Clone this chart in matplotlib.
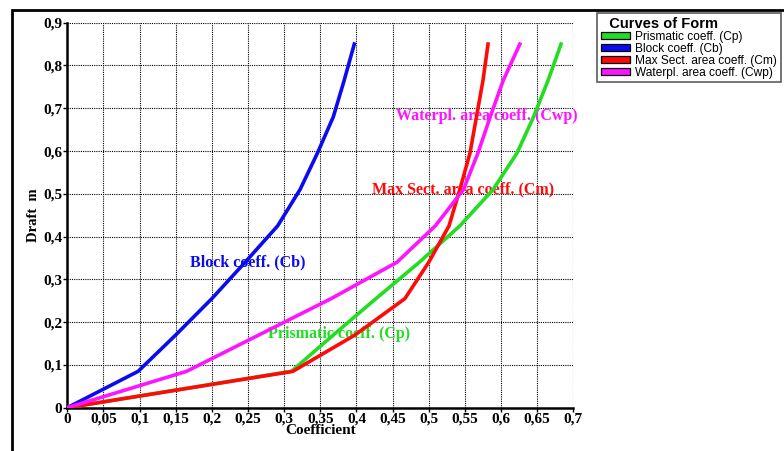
import numpy as np
import matplotlib
matplotlib.use("Agg")
from matplotlib import pyplot as plt
from matplotlib.patches import Rectangle, Patch

# draft stations (m)
draft = [0, 0.085, 0.17, 0.255, 0.34, 0.425, 0.51, 0.595, 0.68, 0.765, 0.85]

# coefficient values
cp = [0, 0.31, 0.368, 0.427, 0.487, 0.543, 0.589, 0.622, 0.645, 0.665, 0.683]
cb = [0, 0.098, 0.150, 0.200, 0.246, 0.291, 0.322, 0.346, 0.368, 0.383, 0.397]
cm = [0, 0.312, 0.398, 0.467, 0.500, 0.528, 0.543, 0.557, 0.566, 0.575, 0.582]
cwp = [0, 0.165, 0.265, 0.365, 0.456, 0.509, 0.548, 0.568, 0.585, 0.603, 0.626]

series_names = ["Prismatic coeff. (Cp)", "Block coeff. (Cb)",
                "Max Sect. area coeff. (Cm)", "Waterpl. area coeff. (Cwp)"]
series_colors = ["#22dd22", "#0b0bf0", "#ff0a0a", "#ff14ff"]

x_ticks = np.round(np.arange(0, 0.701, 0.05), 2)
y_ticks = np.round(np.arange(0, 0.901, 0.1), 1)


def comma(v):
    return ("%g" % v).replace(".", ",")


plt.rcParams["font.family"] = ["Liberation Serif", "DejaVu Serif"]

fig = plt.figure(figsize=(7.84, 4.51), dpi=100)
ax = fig.add_axes([0.0858, 0.096, 0.6455, 0.8537])

# outer frame running off the right and bottom edges
fig.patches.append(Rectangle((12 / 784, -0.1), 1.2, 1 - 10 / 451 + 0.1,
                             transform=fig.transFigure, fill=False,
                             edgecolor="black", linewidth=2, zorder=0))

ax.set_xlim(0, 0.7)
ax.set_ylim(0, 0.9)
ax.set_xticks(x_ticks)
ax.set_yticks(y_ticks)
ax.set_xticklabels([comma(v) for v in x_ticks], fontweight="bold", fontsize=11)
ax.set_yticklabels([comma(v) for v in y_ticks], fontweight="bold", fontsize=11)
ax.tick_params(length=3, width=1, pad=0.5)
ax.grid(True, color="black", linestyle=(0, (1, 1)), linewidth=0.8)
ax.set_axisbelow(True)
for side in ("top", "right"):
    ax.spines[side].set_visible(False)
for side in ("left", "bottom"):
    ax.spines[side].set_linewidth(1.8)
ax.patch.set_alpha(0)

values = [cp, cb, cm, cwp]
for vals, col in zip(values, series_colors):
    ax.plot(vals, draft, color=col, linewidth=2.6, solid_joinstyle="miter",
            zorder=3)

ax.set_xlabel("Coefficient", fontweight="bold", fontsize=11, labelpad=-1)
ax.set_ylabel("Draft  m", fontweight="bold", fontsize=10.5, labelpad=2)

# curve annotations
lab_size = 11.5
ax.text(0.17, 0.34, "Block coeff. (Cb)", color=series_colors[1],
        fontweight="bold", fontsize=lab_size, va="center", zorder=2)
ax.text(0.278, 0.172, "Prismatic coeff. (Cp)", color=series_colors[0],
        fontweight="bold", fontsize=lab_size, va="center", zorder=2)
ax.text(0.421, 0.51, "Max Sect. area coeff. (Cm)", color=series_colors[2],
        fontweight="bold", fontsize=lab_size, va="center", zorder=2)
ax.text(0.455, 0.681, "Waterpl. area coeff. (Cwp)", color=series_colors[3],
        fontweight="bold", fontsize=lab_size, va="center", zorder=2)

handles = [Patch(facecolor=c, edgecolor="black", linewidth=0.9)
           for c in series_colors]
leg = fig.legend(handles, series_names, loc="upper left",
                 bbox_to_anchor=(597 / 784, 1 - 13 / 451),
                 title="  Curves of Form", fancybox=False, frameon=True,
                 prop={"family": "Liberation Sans", "size": 8.6},
                 handlelength=2.5, handleheight=0.5, handletextpad=0.4,
                 labelspacing=0.0, borderpad=0.3, borderaxespad=0)
leg.get_title().set_fontfamily("Liberation Sans")
leg.get_title().set_fontweight("bold")
leg.get_title().set_fontsize(10.5)
leg._legend_box.align = "left"
leg.get_frame().set_edgecolor("#333333")
leg.get_frame().set_linewidth(1.2)

fig.savefig("out.png", dpi=100)
